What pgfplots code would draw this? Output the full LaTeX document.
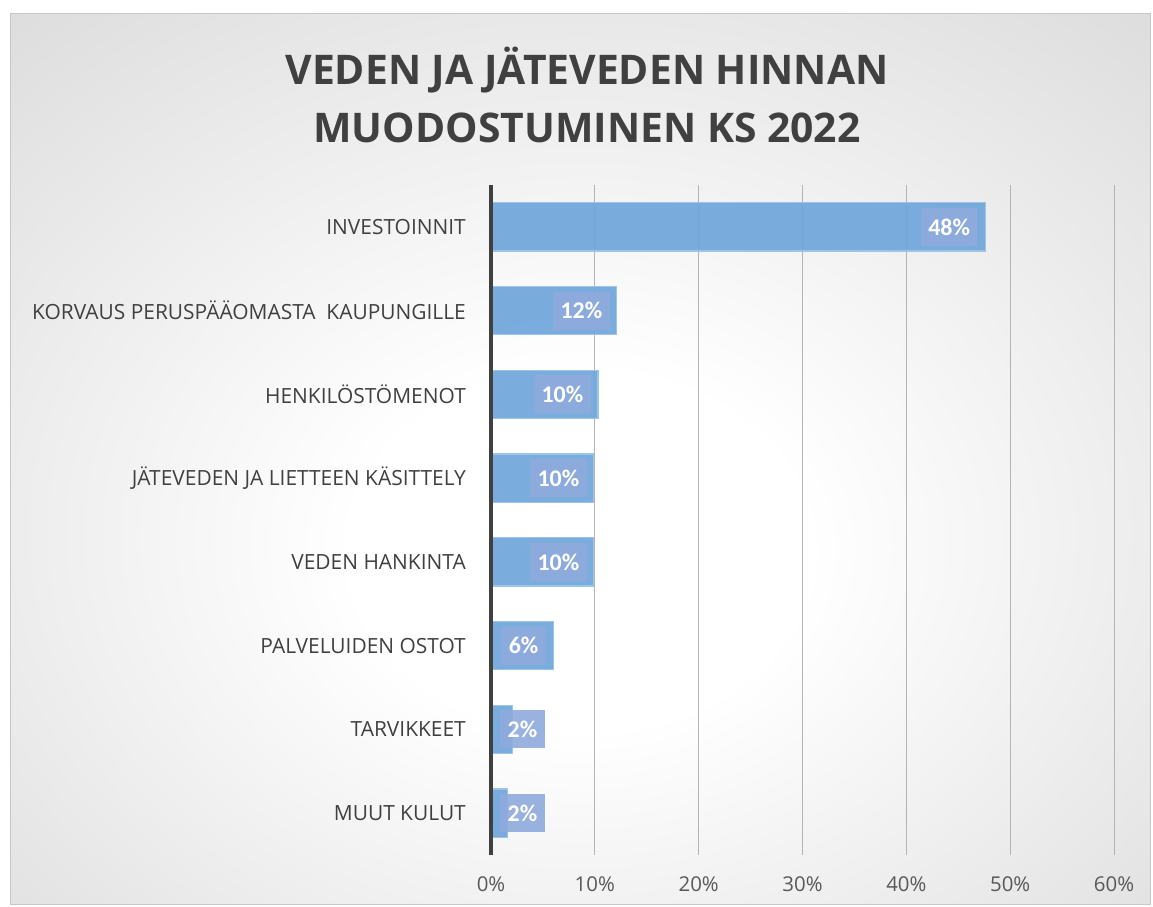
\documentclass[border=0pt]{standalone}
\usepackage{fontspec}
\setmainfont{Open Sans}
\newfontfamily\labfont{Carlito}
\usepackage{pgfplots}
\usepackage{pgfplotstable}
\pgfplotsset{compat=1.18}
\definecolor{barfill}{HTML}{6FA6DB}
\definecolor{barline}{HTML}{9DC3E6}
\definecolor{labbox}{HTML}{8FAADC}
\definecolor{txt}{HTML}{404040}
\definecolor{tickc}{HTML}{595959}
\definecolor{gridc}{HTML}{B4B4B4}
\pgfdeclareradialshading{bgshade}{\pgfpoint{0bp}{-6bp}}{color(0bp)=(white); color(10bp)=(white); color(72bp)=(black!30)}
\pgfplotstableread{
y lx v p
7 46.87 47.6 48
6 11.45 12.1 12
5 9.62 10.3 10
4 9.24 9.9 10
3 9.24 9.9 10
2 5.3 6.0 6
1 5.2 2.1 2
0 5.2 1.6 2
}\data
\begin{document}
\begin{tikzpicture}
\useasboundingbox (0,0) rectangle (1153bp,907bp);
\shade[shading=bgshade] (10bp,2bp) rectangle (1150bp,893bp);
\draw[black!22, line width=1bp] (10bp,2bp) rectangle (1150bp,893bp);
\node[font=\fontsize{41}{59}\selectfont\bfseries, text=txt, align=center] at (587bp,812bp) {VEDEN JA JÄTEVEDEN HINNAN\\MUODOSTUMINEN KS 2022};
\begin{axis}[
  at={(491bp,52bp)}, anchor=south west, scale only axis,
  width=623bp, height=670bp,
  xmin=0, xmax=60, ymin=-0.5, ymax=7.5, clip=false,
  /pgf/number format/assume math mode=true,
  axis line style={draw=none}, tick style={draw=none}, major tick length=0pt,
  xtick={0,10,...,60},
  xticklabel={\pgfmathprintnumber{\tick}\%},
  xticklabel style={font=\fontsize{20.5}{24}\selectfont, text=tickc, inner sep=0pt, anchor=north, yshift=-21bp},
  ytick={0,...,7},
  yticklabels={MUUT KULUT, TARVIKKEET, PALVELUIDEN OSTOT, VEDEN HANKINTA, JÄTEVEDEN JA LIETTEEN KÄSITTELY, HENKILÖSTÖMENOT, KORVAUS PERUSPÄÄOMASTA\ \ KAUPUNGILLE, INVESTOINNIT},
  yticklabel style={font=\fontsize{21}{25}\selectfont, text=txt, inner sep=0pt, anchor=east, xshift=-25bp},
  xmajorgrids, grid style={gridc, line width=1bp},
]
\addplot[xbar, bar width=0.575, fill=barfill, fill opacity=0.92, draw=barline, line width=1.2bp] table[x=v, y=y] {\data};
\addplot[draw=none, mark=none, point meta=explicit,
  nodes near coords={\pgfmathprintnumber[fixed,precision=0,assume math mode=true]{\pgfplotspointmeta}\%},
  every node near coord/.style={anchor=east, fill=labbox, fill opacity=0.9, text opacity=1, text=white, draw=none,
    font=\labfont\bfseries\fontsize{24}{28}\selectfont, minimum height=38bp, inner xsep=7.5bp}]
  table[x=lx, y=y, meta=p] {\data};
\draw[txt, line width=3.5bp] (rel axis cs:0,0) -- (rel axis cs:0,1);
\end{axis}
\end{tikzpicture}
\end{document}
